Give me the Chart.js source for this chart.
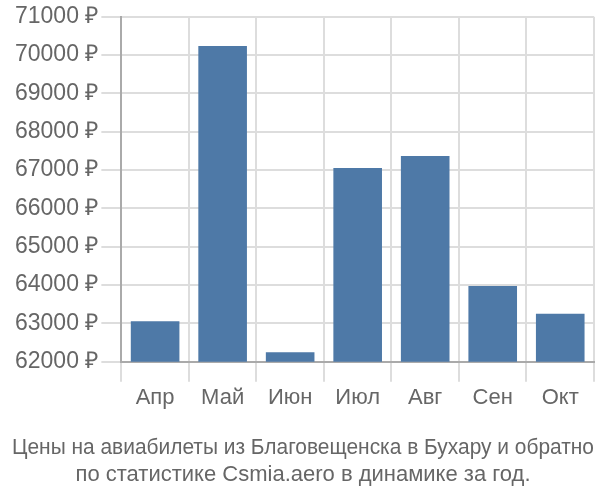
<!DOCTYPE html>
<html lang="ru">
<head>
  <meta charset="UTF-8">
  <title>Цены на авиабилеты</title>
  <script src="https://cdn.jsdelivr.net/npm/chart.js"></script>
  <style>
    html, body { margin: 0; padding: 0; background: #fff; }
    .wrap { width: 600px; height: 500px; position: relative; }
  </style>
</head>
<body>
<div class="wrap"><canvas id="chart"></canvas></div>
<script>
const months = ['Апр', 'Май', 'Июн', 'Июл', 'Авг', 'Сен', 'Окт'];
const prices = [63055, 70240, 62250, 67057, 67368, 63980, 63253];
const yMin = 62000;
const yMax = 71000;
const yStep = 1000;
const titleLines = [
  'Цены на авиабилеты из Благовещенска в Бухару и обратно',
  'по статистике Csmia.aero в динамике за год.'
];

const font = "'Liberation Sans', Arial, sans-serif";

new Chart(document.getElementById('chart'), {
  type: 'bar',
  data: {
    labels: months,
    datasets: [{
      data: prices,
      backgroundColor: '#4e79a7',
      borderWidth: 0
    }]
  },
  options: {
    responsive: true,
    maintainAspectRatio: false,
    animation: false,
    layout: { padding: { top: 3, right: 6, left: 12, bottom: 0 } },
    plugins: {
      legend: { display: false },
      tooltip: { enabled: false },
      title: {
        display: true,
        position: 'bottom',
        text: titleLines,
        color: '#666',
        font: { family: font, size: 22, weight: 'normal', lineHeight: 1.2 },
        padding: { top: 21, bottom: 12 }
      }
    },
    scales: {
      x: {
        grid: { color: '#ddd', lineWidth: 2, tickLength: 20, offset: true },
        border: { color: '#aaa', width: 2 },
        ticks: { color: '#666', font: { family: font, size: 22 }, padding: 3 }
      },
      y: {
        min: yMin,
        max: yMax,
        grid: { color: '#ddd', lineWidth: 2, tickLength: 20 },
        border: { color: '#aaa', width: 2 },
        ticks: {
          stepSize: yStep,
          color: '#666',
          font: { family: font, size: 23 },
          padding: 3,
          callback: v => v + ' ₽'
        }
      }
    }
  }
});
</script>
</body>
</html>
